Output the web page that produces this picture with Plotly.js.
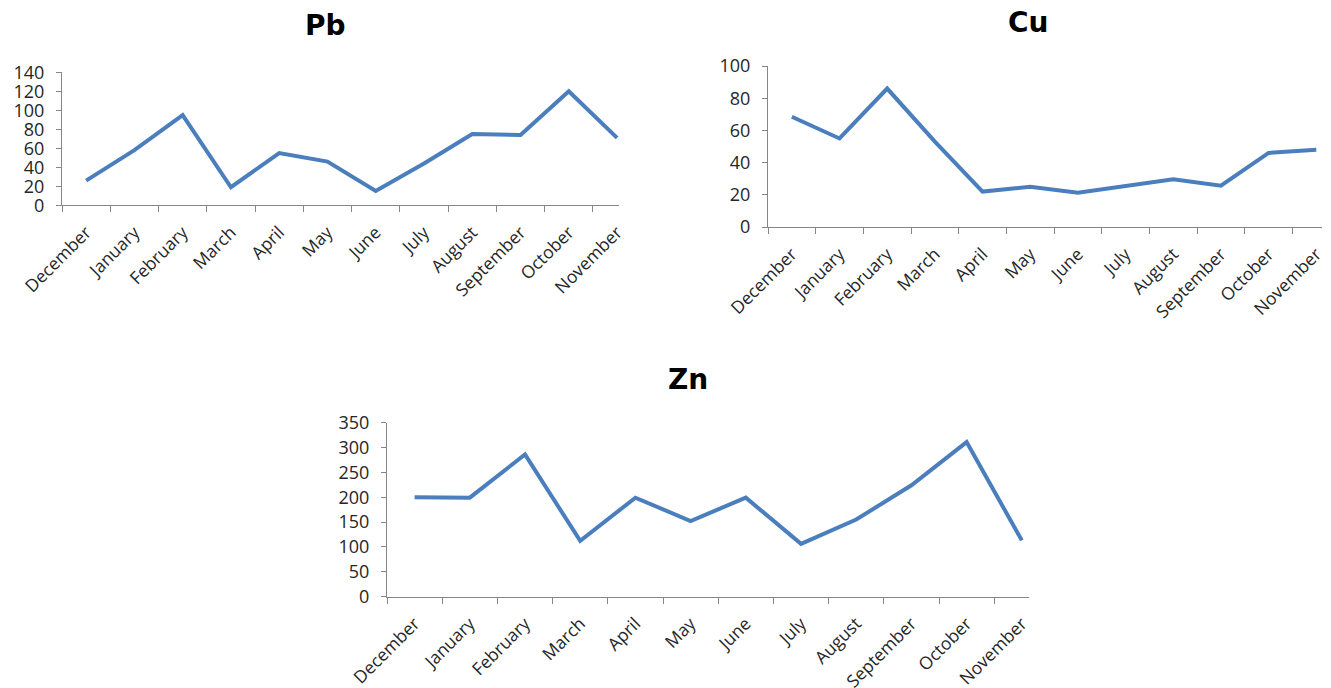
<!DOCTYPE html>
<html>
<head>
<meta charset="utf-8">
<script src="https://cdn.plot.ly/plotly-3.0.1.min.js"></script>
<style>html,body{margin:0;padding:0;background:#fff;}#chart{width:1331px;height:688px;}</style>
</head>
<body>
<div id="chart"></div>
<script>
const months = ["December","January","February","March","April","May","June","July","August","September","October","November"];
const pb = [26, 58, 95, 19, 55, 46, 15, 44, 75, 74, 120, 71];
const cu = [68.5, 55, 86, 53, 22, 25, 21.3, 25.5, 29.6, 25.7, 46, 48];
const zn = [200, 199, 286, 112, 199, 152, 199, 106, 155, 224, 311, 113];
const titles = ["Pb", "Cu", "Zn"];

const W = 1331, H = 688;
const lineColor = "#4A7EBD";
const axisColor = "#868686";
const yFont = {family: "Open Sans, sans-serif", size: 18, color: "#262626"};
const xFont = {family: "Open Sans, sans-serif", size: 17.5, color: "#262626"};

function px(x){ return x / W; }
function py(y){ return 1 - y / H; }

const traces = [
  {x: months, y: pb, xaxis: "x", yaxis: "y"},
  {x: months, y: cu, xaxis: "x2", yaxis: "y2"},
  {x: months, y: zn, xaxis: "x3", yaxis: "y3"}
].map(t => Object.assign(t, {type: "scatter", mode: "lines", line: {color: lineColor, width: 4}, hoverinfo: "skip", cliponaxis: false}));

function xax(d0, d1, r1, anchor){
  return {domain: [px(d0), px(d1)], anchor: anchor, type: "category", range: [-0.5, r1],
    showline: true, linecolor: axisColor, linewidth: 1, ticks: "outside", ticklen: 6, tickcolor: axisColor,
    tickson: "boundaries", tickangle: -45, tickfont: xFont, showgrid: false, zeroline: false, fixedrange: true,
    ticklabelstandoff: 9};
}
function yax(top, bottom, rmax, dtick, anchor){
  return {domain: [py(bottom), py(top)], anchor: anchor, range: [0, rmax], dtick: dtick, tick0: 0,
    showline: true, linecolor: axisColor, linewidth: 1, ticks: "outside", ticklen: 5, tickcolor: axisColor,
    tickfont: yFont, showgrid: false, zeroline: false, fixedrange: true, ticklabelstandoff: 8};
}

const layout = {
  width: W, height: H,
  margin: {l: 0, r: 0, t: 0, b: 0},
  paper_bgcolor: "#fff", plot_bgcolor: "rgba(0,0,0,0)",
  showlegend: false,
  xaxis: xax(62, 619, 11.04, "y"),
  yaxis: yax(72.3, 205.3, 140, 20, "x"),
  xaxis2: xax(768, 1322, 11.12, "y2"),
  yaxis2: yax(66, 227, 100, 20, "x2"),
  xaxis3: xax(387, 1029, 11.13, "y3"),
  yaxis3: yax(422.7, 596.5, 350, 50, "x3"),
  annotations: [
    {text: titles[0], x: px(325), y: py(26), xref: "paper", yref: "paper", showarrow: false, xanchor: "center", yanchor: "middle",
     font: {family: "DejaVu Sans, sans-serif", size: 28, color: "#000", weight: "bold"}},
    {text: titles[1], x: px(1028), y: py(23), xref: "paper", yref: "paper", showarrow: false, xanchor: "center", yanchor: "middle",
     font: {family: "DejaVu Sans, sans-serif", size: 28, color: "#000", weight: "bold"}},
    {text: titles[2], x: px(688), y: py(379), xref: "paper", yref: "paper", showarrow: false, xanchor: "center", yanchor: "middle",
     font: {family: "DejaVu Sans, sans-serif", size: 28, color: "#000", weight: "bold"}}
  ]
};

Plotly.newPlot("chart", traces, layout, {displayModeBar: false, staticPlot: true});
</script>
</body>
</html>
